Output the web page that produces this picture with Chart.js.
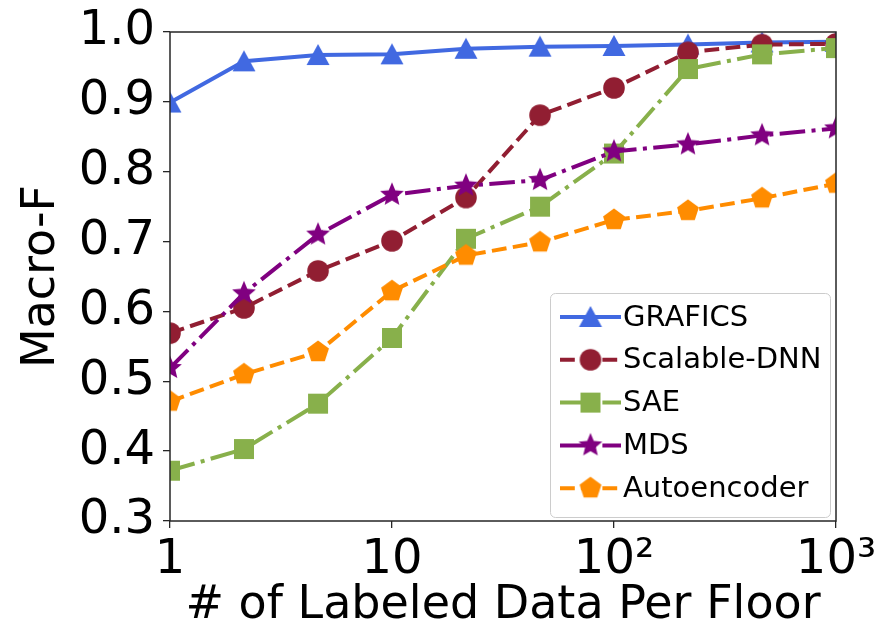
<!DOCTYPE html>
<html>
<head>
<meta charset="utf-8">
<script src="https://cdn.jsdelivr.net/npm/chart.js@4.4.0/dist/chart.umd.min.js"></script>
<style>
  html, body { margin: 0; padding: 0; background: #fff; }
</style>
</head>
<body>
<canvas id="chart" width="883" height="632"></canvas>
<script>
// x positions: number of labeled samples per floor (log spaced)
const floorCounts = [1, 2.154, 4.642, 10, 21.54, 46.42, 100, 215.4, 464.2, 1000];

// Macro-F per method
const graficsF     = [0.899, 0.958, 0.967, 0.968, 0.976, 0.979, 0.980, 0.982, 0.985, 0.986];
const scalableDnnF = [0.569, 0.605, 0.658, 0.701, 0.763, 0.881, 0.920, 0.971, 0.982, 0.983];
const saeF         = [0.372, 0.403, 0.468, 0.562, 0.704, 0.750, 0.826, 0.947, 0.968, 0.977];
const mdsF         = [0.519, 0.626, 0.710, 0.767, 0.780, 0.788, 0.829, 0.839, 0.852, 0.862];
const autoencoderF = [0.471, 0.510, 0.542, 0.629, 0.680, 0.699, 0.731, 0.744, 0.762, 0.783];

const seriesNames = ['GRAFICS', 'Scalable-DNN', 'SAE', 'MDS', 'Autoencoder'];
const seriesValues = [graficsF, scalableDnnF, saeF, mdsF, autoencoderF];

const xTickValues = [1, 10, 100, 1000];
const xTickLabels = ['1', '10', '10²', '10³'];
const yTickValues = [0.3, 0.4, 0.5, 0.6, 0.7, 0.8, 0.9, 1.0];

const FONT = "'DejaVu Sans', 'Liberation Sans', sans-serif";
const DASHED = [14.8, 6.4];
const DASHDOT = [25.6, 6.4, 4, 6.4];

const seriesStyles = [
    { color: '#4169e1', marker: 'triangle', dash: [] },
    { color: '#911e32', marker: 'circle', dash: DASHED },
    { color: '#88b04b', marker: 'square', dash: DASHDOT },
    { color: '#800080', marker: 'star', dash: DASHDOT },
    { color: '#ff8c00', marker: 'pentagon', dash: DASHED }
];

function markerPath(g, shape, cx, cy) {
    g.beginPath();
    if (shape === 'circle') {
        g.arc(cx, cy, 10.8, 0, Math.PI * 2);
    } else if (shape === 'square') {
        g.rect(cx - 10, cy - 10, 20, 20);
    } else if (shape === 'triangle') {
        g.moveTo(cx, cy - 11);
        g.lineTo(cx + 11.5, cy + 10);
        g.lineTo(cx - 11.5, cy + 10);
    } else {
        const star = shape === 'star';
        const n = star ? 10 : 5;
        const outer = star ? 12.5 : 11.5;
        for (let i = 0; i < n; i++) {
            const a = -Math.PI / 2 + i * 2 * Math.PI / n;
            const r = (star && i % 2) ? outer * 0.45 : outer;
            g.lineTo(cx + Math.cos(a) * r, cy + Math.sin(a) * r);
        }
    }
    g.closePath();
}

function makeMarker(shape, color) {
    const c = document.createElement('canvas');
    c.width = 28;
    c.height = 28;
    const g = c.getContext('2d');
    markerPath(g, shape, 14, 14);
    g.fillStyle = color;
    g.fill();
    return c;
}

const datasets = seriesNames.map((name, i) => {
    const st = seriesStyles[i];
    return {
        label: name,
        data: floorCounts.map((x, j) => ({ x: x, y: seriesValues[i][j] })),
        borderColor: st.color,
        backgroundColor: st.color,
        borderWidth: 4,
        borderDash: st.dash,
        borderCapStyle: 'butt',
        borderJoinStyle: 'round',
        pointStyle: makeMarker(st.marker, st.color),
        pointRadius: 11,
        pointHoverRadius: 11,
        tension: 0,
        clip: 0,
        order: seriesNames.length - i
    };
});

// box around the plot area (all four spines)
const framePlugin = {
    id: 'frame',
    afterDatasetsDraw(chart) {
        const { ctx, chartArea: a } = chart;
        ctx.save();
        ctx.strokeStyle = '#262626';
        ctx.lineWidth = 1.5;
        ctx.strokeRect(a.left, a.top, a.right - a.left, a.bottom - a.top);
        ctx.restore();
    }
};

// matplotlib-like legend: line segment with marker in the middle
const legendPlugin = {
    id: 'mplLegend',
    afterDraw(chart) {
        const ctx = chart.ctx;
        ctx.save();
        ctx.beginPath();
        ctx.roundRect(550.5, 293.5, 280, 224, 5);
        ctx.fillStyle = 'rgba(255,255,255,0.85)';
        ctx.fill();
        ctx.strokeStyle = '#cccccc';
        ctx.lineWidth = 1;
        ctx.stroke();

        chart.data.datasets.forEach((ds, i) => {
            const y = 317 + i * 42.8;
            ctx.beginPath();
            ctx.setLineDash(ds.borderDash);
            ctx.lineCap = 'butt';
            ctx.strokeStyle = ds.borderColor;
            ctx.lineWidth = ds.borderWidth;
            ctx.moveTo(560, y);
            ctx.lineTo(621, y);
            ctx.stroke();
            ctx.setLineDash([]);
            const m = ds.pointStyle;
            ctx.drawImage(m, 590.5 - m.width / 2, y - m.height / 2);

            ctx.fillStyle = '#000';
            ctx.font = '29px ' + FONT;
            ctx.textAlign = 'left';
            ctx.textBaseline = 'middle';
            ctx.fillText(ds.label, 623, y + 1);
        });
        ctx.restore();
    }
};

new Chart(document.getElementById('chart'), {
    type: 'line',
    data: { datasets: datasets },
    options: {
        responsive: false,
        animation: false,
        devicePixelRatio: 1,
        layout: { padding: { left: 0, right: 47, top: 27, bottom: 0 } },
        plugins: {
            legend: { display: false },
            tooltip: { enabled: false }
        },
        scales: {
            x: {
                type: 'logarithmic',
                position: 'bottom',
                min: 1,
                max: 1000,
                afterBuildTicks(axis) {
                    axis.ticks = xTickValues.map(v => ({ value: v }));
                },
                afterFit(axis) { axis.height = 111; },
                grid: { display: true, drawOnChartArea: false, drawTicks: true, tickLength: 7, color: '#262626', lineWidth: 1.3 },
                border: { display: false },
                ticks: {
                    autoSkip: false,
                    maxRotation: 0,
                    padding: 4,
                    color: '#000',
                    font: { family: FONT, size: 48 },
                    callback: (value) => {
                        const k = xTickValues.indexOf(value);
                        return k >= 0 ? xTickLabels[k] : '';
                    }
                },
                title: {
                    display: true,
                    text: '# of Labeled Data Per Floor',
                    color: '#000',
                    font: { family: FONT, size: 46, lineHeight: 1 },
                    padding: { top: 0, bottom: 3 }
                }
            },
            y: {
                type: 'linear',
                min: 0.3,
                max: 1.0,
                afterBuildTicks(axis) {
                    axis.ticks = yTickValues.map(v => ({ value: v }));
                },
                afterFit(axis) { axis.width = 170; },
                grid: { display: true, drawOnChartArea: false, drawTicks: true, tickLength: 7, color: '#262626', lineWidth: 1.3 },
                border: { display: false },
                ticks: {
                    padding: 8,
                    color: '#000',
                    font: { family: FONT, size: 48, lineHeight: 1 },
                    callback: (value) => value.toFixed(1)
                },
                title: {
                    display: true,
                    text: 'Macro-F',
                    color: '#000',
                    font: { family: FONT, size: 46, lineHeight: 1 },
                    padding: { top: 19, bottom: 0 }
                }
            }
        }
    },
    plugins: [framePlugin, legendPlugin]
});
</script>
</body>
</html>
